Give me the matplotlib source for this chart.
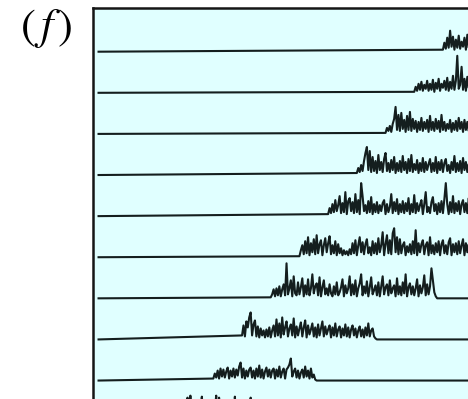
import numpy as np
import matplotlib
matplotlib.use("Agg")
import matplotlib.pyplot as plt

plt.rcParams["mathtext.fontset"] = "stix"

# burst onset time of each trace (top to bottom)
onsets = [240, 220, 200, 180, 160, 140, 120, 100, 80, 60]

# burst amplitudes, one sample per time step from the onset
burst_0 = [2, 9, 3, 14, 4, 21, 5, 15, 2, 12, 4, 16, 3, 10, 5, 14, 2, 17, 4, 11,
           3, 13, 5]
burst_1 = [1, 6, 2, 9, 3, 11, 2, 8, 4, 12,
           2, 9, 3, 13, 1, 10, 4, 14, 2, 9,
           5, 12, 3, 15, 2, 11, 4, 17, 3, 12,
           37, 4, 8, 26, 3, 14, 2, 16, 5, 12,
           3, 11, 4]
burst_2 = [1, 6, 3, 8, 2, 10, 15, 27, 4, 19,
           3, 21, 5, 14, 2, 18, 4, 22, 3, 15,
           5, 13, 2, 12, 4, 16, 3, 12, 5, 14,
           2, 18, 4, 12, 3, 15, 5, 13, 2, 19,
           4, 12, 3, 10, 5, 14, 2, 11, 4, 13,
           3, 16, 5, 12, 2, 14, 4, 12, 3, 13,
           5, 11, 3]
burst_3 = [2, 7, 3, 10, 4, 14, 22, 28, 5, 24,
           3, 18, 4, 14, 2, 20, 5, 13, 3, 16,
           22, 4, 12, 3, 15, 5, 18, 2, 12, 4,
           14, 3, 19, 5, 13, 2, 16, 4, 20, 3,
           11, 5, 15, 2, 12, 4, 17, 3, 13, 5,
           11, 16, 3, 12, 4, 18, 2, 13, 5, 15,
           3, 12, 16, 4, 10, 2, 13, 5, 19, 3,
           12, 4, 14, 2, 17, 5, 13, 3, 11, 4,
           15, 3, 12]
burst_4 = [2, 8, 3, 12, 4, 16, 5, 11, 20, 3,
           13, 4, 24, 2, 15, 18, 5, 14, 3, 22,
           4, 16, 2, 33, 20, 5, 11, 3, 15, 4,
           19, 2, 12, 4, 14, 3, 11, 5, 13, 16,
           2, 12, 4, 9, 22, 3, 14, 5, 17, 2,
           12, 4, 15, 3, 13, 5, 18, 2, 12, 4,
           21, 3, 13, 5, 11, 16, 2, 12, 24, 4,
           9, 3, 14, 19, 5, 12, 2, 13, 4, 15,
           3, 17, 33, 12, 2, 14, 4, 20, 3, 13,
           5, 15, 2, 12, 16, 4, 13, 3, 18, 5,
           12, 3, 14]
burst_5 = [1, 7, 12, 3, 16, 4, 20, 2, 14, 5,
           18, 3, 22, 4, 13, 17, 2, 12, 19, 5,
           14, 21, 3, 12, 4, 16, 2, 13, 4, 9,
           2, 7, 3, 6, 2, 8, 3, 14, 4, 17,
           2, 12, 20, 5, 15, 3, 13, 18, 4, 10,
           2, 16, 4, 14, 3, 19, 5, 12, 25, 2,
           13, 22, 4, 17, 3, 24, 29, 5, 20, 3,
           18, 4, 12, 15, 2, 11, 5, 13, 3, 16,
           4, 27, 2, 14, 5, 13, 17, 3, 12, 15,
           2, 20, 4, 12, 3, 14, 5, 16, 2, 13,
           17, 4, 12, 3, 15, 19, 2, 13, 5, 14,
           3, 16, 4, 12, 18, 2, 14, 5, 13, 3,
           15, 4, 12]
burst_6 = [1, 4, 9, 2, 10, 3, 12, 2, 9, 14,
           3, 35, 4, 10, 18, 2, 22, 5, 3, 16,
           4, 11, 20, 2, 13, 4, 19, 3, 10, 24,
           5, 12, 15, 3, 21, 2, 11, 18, 4, 10,
           3, 14, 5, 2, 12, 4, 16, 3, 6, 11,
           19, 2, 13, 5, 10, 22, 3, 14, 4, 18,
           2, 10, 15, 24, 3, 12, 5, 17, 2, 11,
           21, 4, 8, 13, 3, 16, 2, 12, 22, 4,
           11, 14, 3, 18, 5, 10, 13, 2, 20, 4,
           12, 3, 16, 5, 24, 2, 11, 15, 4, 12,
           3, 10, 19, 2, 13, 5, 11, 23, 3, 14,
           4, 12, 30, 18, 6, 2]
burst_7 = [4, 14, 3, 18, 12, 22, 27, 4, 15, 19,
           3, 13, 2, 11, 4, 9, 2, 10, 3, 12,
           2, 9, 14, 3, 20, 4, 16, 2, 22, 5,
           12, 18, 3, 11, 15, 4, 21, 2, 13, 4,
           11, 17, 3, 12, 19, 2, 14, 5, 10, 16,
           3, 12, 2, 15, 4, 11, 18, 3, 13, 5,
           10, 14, 2, 12, 4, 16, 3, 10, 13, 2,
           11, 4, 15, 3, 12, 2, 10, 14, 4, 11,
           2, 9, 13, 3, 10, 2, 12, 4, 16, 3,
           9, 11, 3, 1]
burst_8 = [2, 7, 3, 10, 2, 12, 4, 11, 3, 9,
           13, 2, 10, 4, 12, 3, 11, 5, 14, 18,
           3, 12, 2, 10, 4, 11, 13, 3, 10, 2,
           12, 4, 15, 3, 11, 2, 9, 13, 4, 11,
           3, 10, 12, 2, 11, 4, 14, 3, 9, 12,
           2, 11, 13, 16, 22, 4, 9, 12, 3, 10,
           2, 8, 11, 3, 14, 4, 10, 2, 12, 3,
           6, 1]
burst_9 = [3, 10, 24, 4, 26, 2, 15, 5, 12, 18,
           3, 14, 25, 4, 12, 16, 2, 13, 5, 15,
           3, 12, 26, 4, 24, 2, 17, 5, 13, 3,
           15, 4, 11, 14, 2, 25, 5, 16, 3, 13,
           4, 11, 14, 2, 12, 4, 24, 3, 6, 2]

bursts = [burst_0, burst_1, burst_2, burst_3, burst_4,
          burst_5, burst_6, burst_7, burst_8, burst_9]

T_END = 300
ROW_GAP = 41.1  # amplitude units between neighbouring traces

fig = plt.figure(figsize=(4.68, 3.99), dpi=100)
# the panel runs on past the right and bottom edges of the figure
ax = fig.add_axes([0.1977, -0.2113, 0.9327, 1.19])
ax.set_facecolor("lightcyan")

for k, (t0, amp) in enumerate(zip(onsets, bursts)):
    n = len(amp)
    t = np.concatenate([[0], t0 + np.arange(n), [t0 + n, T_END]])
    a = np.concatenate([[0], amp, [0, 0]])
    ax.plot(t, -k + a / ROW_GAP, color="#141e1e", lw=1.5)

ax.set_xlim(-4.2, T_END)
ax.set_ylim(-10.5, 1.051)
ax.set_xticks([])
ax.set_yticks([])
for side in ax.spines.values():
    side.set_linewidth(1.8)
    side.set_color("#151515")

fig.text(20 / 468, 1 - 7 / 399, r"$(\,f\,)$", fontsize=32, va="top", ha="left")

fig.savefig("out.png", dpi=100)
